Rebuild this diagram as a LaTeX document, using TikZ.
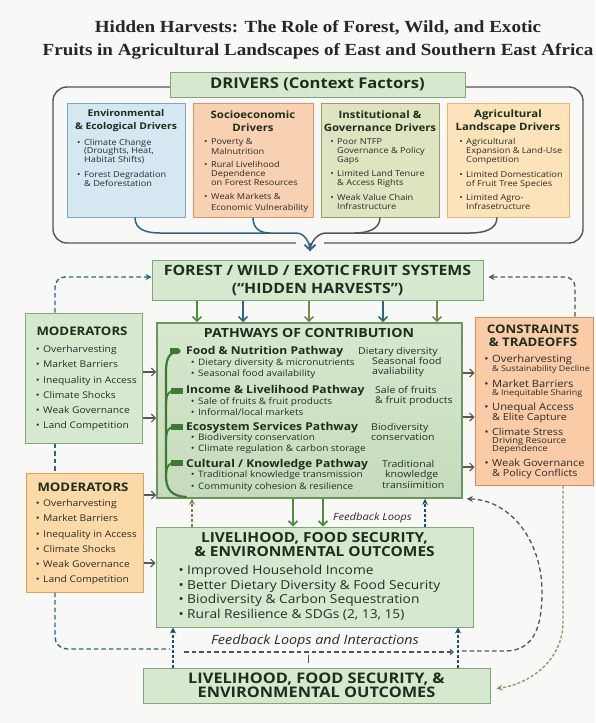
\documentclass[tikz,border=0pt]{standalone}
\usepackage{fontspec}
\setmainfont{Liberation Serif}[FakeStretch=1.12]
\setsansfont{Open Sans}[FakeStretch=1.12]
\usetikzlibrary{arrows.meta,positioning}

%% colours
\definecolor{pagebg}{HTML}{F8F8F6}
\definecolor{inktext}{HTML}{2B2B2B}
\definecolor{headink}{HTML}{1E2E1E}
\definecolor{greenfill}{HTML}{D6E9CF}
\definecolor{greenline}{HTML}{7EA877}
\definecolor{pathtop}{HTML}{D6E8CD}
\definecolor{pathfill}{HTML}{C6DBBB}
\definecolor{pathline}{HTML}{6A955F}
\definecolor{envfill}{HTML}{D5E7F1}
\definecolor{envline}{HTML}{7FA7C3}
\definecolor{socfill}{HTML}{F8D1B2}
\definecolor{socline}{HTML}{E39368}
\definecolor{insfill}{HTML}{DDE4BF}
\definecolor{insline}{HTML}{949F66}
\definecolor{agrfill}{HTML}{FCE3B9}
\definecolor{agrline}{HTML}{E9B66C}
\definecolor{modfill}{HTML}{FCDAA8}
\definecolor{modline}{HTML}{E0A15E}
\definecolor{confill}{HTML}{F9CBA6}
\definecolor{conline}{HTML}{E08B57}
\definecolor{stemgreen}{HTML}{3D7A36}
\definecolor{arrgreen}{HTML}{4E8A40}
\definecolor{arrblue}{HTML}{2B6683}
\definecolor{arrolive}{HTML}{7D8450}
\definecolor{arrgray}{HTML}{555555}
\definecolor{darkteal}{HTML}{1F4F68}

\newcommand{\bulletmark}{\llap{\textbullet\hspace{3.5pt}}}

\begin{document}
\begin{tikzpicture}
[x=1pt,y=-1pt,
  every node/.style={inner sep=0pt,text=inktext},
  boxdecorate/.style 2 args={draw=#2,fill=#1,line width=1pt},
  headdecorate/.style 2 args={font=\sffamily\bfseries\fontsize{#1}{#2}\selectfont,text=headink,align=center},
  listdecorate/.style={font=\sffamily\fontsize{#1}{#1}\selectfont,anchor=base west,yshift=-0.34*#1},
  boldlist/.style={font=\sffamily\bfseries\fontsize{#1}{#1}\selectfont,anchor=base west,yshift=-0.34*#1,text=headink},
  downarrow/.style={line width=1.6pt,-{Straight Barb[length=4.5pt,width=9pt]}},
  sidearrow/.style={line width=1.2pt,draw=arrgray!90!olive,-{Straight Barb[length=4pt,width=8pt]}},
  bluedash/.style={line width=1.4pt,draw=arrblue,dash pattern=on 4.5pt off 3pt},
  bluedot/.style={line width=1.4pt,draw=arrblue,dash pattern=on 3pt off 2pt,-{Stealth[length=6pt,width=6pt]},darkteal},
  graydash/.style={line width=1.3pt,draw=arrgray,dash pattern=on 4.5pt off 3pt},
  greendash/.style={line width=1.3pt,draw=arrgreen!80,dash pattern=on 3pt off 2pt},
  stemdecorate/.style={line width=2.2pt,draw=stemgreen,line cap=round}]
\useasboundingbox (0,0) rectangle (595,723);
\fill[pagebg] (0,0) rectangle (595,723);

%% title
\node (titleA) at (318,28) [font=\rmfamily\bfseries\fontsize{17}{18}\selectfont,text=black!85] {Hidden Harvests: The Role of Forest, Wild, and Exotic};
\node (titleB) at (318,51) [font=\rmfamily\bfseries\fontsize{17}{18}\selectfont,text=black!85] {Fruits in Agricultural Landscapes of East and Southern East Africa};

%% drivers frame and boxes
\draw[line width=1.4pt,draw=arrgray,rounded corners=14pt] (296,243) -- (53,243) -- (53,87) -- (583,87) -- (583,243) -- (324,243);
\node (drivers) at (317.5,84.5) [boxdecorate={greenfill}{greenline},minimum width=295pt,minimum height=25pt,headdecorate={14.8}{15}] {DRIVERS (Context Factors)};
\foreach \nodename/\cx/\boxw/\fillc/\linec/\hsize/\heading in {
  envbox/126/118/envfill/envline/9.3/{Environmental\\\& Ecological Drivers},
  socbox/253/120/socfill/socline/10.2/{Socioeconomic\\Drivers},
  insbox/380/118/insfill/insline/10.2/{Institutional \&\\Governance Drivers},
  agrbox/508/122/agrfill/agrline/10.2/{Agricultural\\Landscape Drivers}} {
  \node (\nodename) at (\cx,160) [boxdecorate={\fillc}{\linec},minimum width=\boxw pt,minimum height=114pt] {};
  \node (\nodename-head) at (\cx,121) [headdecorate={\hsize}{13}] {\heading};
}
\foreach \tx/\yy/\txt in {
  84/143/{\bulletmark Climate Change}, 84/151/{(Droughts, Heat,}, 84/160/{Habitat Shifts)},
  84/175/{\bulletmark Forest Degradation}, 84/184/{\& Deforestation},
  211/142/{\bulletmark Poverty \&}, 211/152/Malnutrition, 211/165/{\bulletmark Rural Livelihood},
  211/174/Dependence, 211/183/{on Forest Resources}, 211/197/{\bulletmark Weak Markets \&},
  211/208/{Economic Vulnerability},
  337/142/{\bulletmark Poor NTFP}, 337/151/{Governance \& Policy}, 337/160/Gaps,
  337/174/{\bulletmark Limited Land Tenure}, 337/183/{\& Access Rights},
  337/198/{\bulletmark Weak Value Chain}, 337/207/Infrastructure,
  466/142/{\bulletmark Agricultural}, 466/151/{Expansion \& Land-Use}, 466/160/Competition,
  466/175/{\bulletmark Limited Domestication}, 466/184/{of Fruit Tree Species},
  466/198/{\bulletmark Limited Agro-}, 466/207/Infrasetructure} {
  \node (drv\tx-\yy) at (\tx,\yy) [listdecorate=8.2] {\txt};
}

%% fruit systems and pathways
\node (forest) at (317.5,280) [boxdecorate={greenfill}{greenline},minimum width=331pt,minimum height=40pt,headdecorate={14.2}{18}] {FOREST / WILD / EXOTIC\,FRUIT SYSTEMS\\(“HIDDEN HARVESTS”)};
\node (paths) at (309.5,410.5) [boxdecorate={pathfill}{pathline},line width=1.6pt,top color=pathtop,bottom color=pathfill,minimum width=305pt,minimum height=175pt] {};
\node (paths-head) at (309,333) [headdecorate={12.6}{13}] {PATHWAYS OF CONTRIBUTION};
\foreach \yy/\txt in {351/{Food \& Nutrition Pathway}, 390/{Income \& Livelihood Pathway},
  427/{Ecosystem Services Pathway}, 464/{Cultural / Knowledge Pathway}} {
  \node (pw\yy) at (186,\yy) [boldlist=10.8] {\txt};
}
\foreach \yy/\txt in {362/{Dietary diversity \& micronutrients}, 373/{Seasonal food availability},
  401/{Sale of fruits \& fruit products}, 412/{Informal/local markets},
  437/{Biodiversity conservation}, 448/{Climate regulation \& carbon storage},
  474/{Traditional knowledge transmission}, 486/{Community cohesion \& resilience}} {
  \node (pi\yy) at (198,\yy) [listdecorate=8.9] {\bulletmark\txt};
}
\foreach \tx/\yy/\txt in {358/351/{Dietary diversity}, 372/361/{Seasonal food}, 372/371/avaliability,
  375/390/{Sale of fruits}, 375/400/{\& fruit products}, 371/427/Biodiversity, 371/437/conservation,
  382/464/Traditional, 385/474/knowledge, 382/485/transiimition} {
  \node (pr\tx-\yy) at (\tx,\yy) [listdecorate=9.4] {\txt};
}
%% pathway stem
\draw[stemdecorate] (178,351) .. controls (168,353) and (166,360) .. (166,372) -- (166,476) .. controls (166,490) and (172,496) .. (186,497);
\fill[stemgreen] (178,351) circle (2.6pt);
\fill[stemgreen] (170,348) -- (178,348) -- (180,351) -- (178,354) -- (170,354) -- cycle;
\foreach \yy in {391,427,463} {
  \draw[stemdecorate,line width=1.8pt] (166,\yy+16) .. controls (166,\yy+4) and (168,\yy) .. (174,\yy);
  \fill[stemgreen] (171,\yy-3) rectangle (183,\yy+3);
}

%% moderators and constraints
\node (modgreen) at (83.5,378) [boxdecorate={greenfill}{greenline},minimum width=117pt,minimum height=130pt] {};
\node (modorange) at (84.5,532.5) [boxdecorate={modfill}{modline},minimum width=117pt,minimum height=119pt] {};
\node (modgreen-head) at (82,331) [headdecorate={11.8}{12}] {MODERATORS};
\node (modorange-head) at (83,487) [headdecorate={11.8}{12}] {MODERATORS};
\foreach \yy/\txt in {349/Overharvesting, 364/{Market Barriers}, 380/{Inequality in Access},
  395/{Climate Shocks}, 410/{Weak Governance}, 425/{Land Competition}} {
  \node (modg\yy) at (43,\yy) [listdecorate=9.2] {\bulletmark \txt};
  \pgfmathtruncatemacro{\yo}{\yy+154}
  \node (modo\yo) at (43,\yo) [listdecorate=9.2] {\bulletmark \txt};
}
\node (cons) at (534,401) [boxdecorate={confill}{conline},minimum width=118pt,minimum height=168pt] {};
\node (cons-head) at (533,336) [headdecorate={11.8}{12.5}] {CONSTRAINTS\\\& TRADEOFFS};
\foreach \yy/\sz/\txt in {359/10/{\bulletmark Overharvesting}, 369/8/{\& Sustainability Decline},
  384/10/{\bulletmark Market Barriers}, 393/8/{\& Inequitable Sharing},
  407/10/{\bulletmark Unequal Access}, 417/9.6/{\& Elite Capture},
  432/9.6/{\bulletmark Climate Stress}, 441/8.4/{Driving Resource}, 449/8.4/Dependence,
  463/9.8/{\bulletmark Weak Governance}, 473/9.6/{\& Policy Conflicts}} {
  \node (cs\yy) at (492,\yy) [listdecorate=\sz] {\txt};
}

%% outcomes
\node (outcome) at (314.5,577) [boxdecorate={greenfill}{greenline},minimum width=317pt,minimum height=100pt] {};
\node (outcome-head) at (314.5,545) [headdecorate={13.8}{14}] {LIVELIHOOD, FOOD SECURITY,\\\& ENVIRONMENTAL OUTCOMES};
\foreach \yy/\txt in {570/{Improved Household Income}, 585/{Better Dietary Diversity \& Food Security},
  599/{Biodiversity \& Carbon Sequestration}, 614/{Rural Resilience \& SDGs (2, 13, 15)}} {
  \node (oc\yy) at (187,\yy) [listdecorate=12.3] {\bulletmark\txt};
}
\node (bottom) at (316.5,685.5) [boxdecorate={greenfill}{greenline},minimum width=347pt,minimum height=35pt,headdecorate={14.6}{14.5}] {LIVELIHOOD, FOOD SECURITY, \&\\ENVIRONMENTAL OUTCOMES};
\node (fbsmall) at (333,518) [listdecorate=8,font=\sffamily\itshape\fontsize{10}{10}\selectfont] {Feedback Loops};
\node (fbbig) at (315,641) [font=\sffamily\itshape\fontsize{12.8}{13}\selectfont] {Feedback Loops and Interactions};

%% driver connectors
\coordinate (mergetip) at (310,251);
\draw[line width=1.5pt,arrblue] ([xshift=9pt]envbox.south) .. controls +(0,12) and +(-14,0) .. (160,233) -- (296,233) .. controls +(9,0) and +(0,-8) .. (mergetip);
\draw[line width=1.5pt,arrblue] (socbox.south) .. controls +(0,11) and +(-10,0) .. (270,233);
\draw[line width=1.5pt,arrgray] (insbox.south) .. controls +(0,12) and +(12,0) .. (355,233) -- (326,233) .. controls +(-9,0) and +(0,-8) .. (mergetip);
\draw[line width=1.5pt,arrgray] ([xshift=-11pt]agrbox.south) .. controls +(0,12) and +(14,0) .. (470,233) -- (355,233);
\draw[line width=1.8pt,arrblue,-{Straight Barb[length=5pt,width=11pt]}] (310,243) -- (mergetip);

%% arrows into and out of pathways
\foreach \xx/\colr in {197/arrgreen, 243/arrblue, 309/arrolive, 383/arrblue, 437/arrolive} {
  \draw[downarrow,\colr] (forest.south -| \xx,0) -- (paths.north -| \xx,0);
}
\foreach \yy in {372,418} {
  \draw[sidearrow] (modgreen.east |- 0,\yy) -- (paths.west |- 0,\yy);
}
\draw[sidearrow] (modorange.east |- 0,495) -- (paths.west |- 0,495);
\draw[sidearrow] (modorange.east |- 0,563) -- (outcome.west |- 0,563);
\foreach \yy in {373,417,467} {
  \draw[sidearrow] (paths.east |- 0,\yy) -- (cons.west |- 0,\yy);
}
\foreach \xx in {293,323} {
  \draw[downarrow,arrgreen] (paths.south -| \xx,0) -- (outcome.north -| \xx,0);
}
\draw[line width=1.4pt,arrolive,dash pattern=on 3pt off 2pt,-{Stealth[length=6pt,width=6pt]}] (outcome.north -| 192,0) -- (paths.south -| 192,0);
\draw[bluedot] (outcome.north -| 425,0) -- (paths.south -| 425,0);
\foreach \xx in {173,458} {
  \draw[bluedot] (bottom.north -| \xx,0) -- (outcome.south -| \xx,0);
}

%% dashed feedback loops
\draw[bluedash,rounded corners=10pt,-{Stealth[length=6pt,width=6pt]}] (modgreen.north -| 55,0) |- (forest.west |- 0,277);
\draw[bluedash] (modgreen.south -| 55,0) -- (modorange.north -| 55,0);
\coordinate (loopjoin) at (170,649);
\draw[bluedash,rounded corners=12pt] (modorange.south -| 55,0) |- (loopjoin);
\coordinate (loopstart) at (184,652);
\coordinate (loopmid) at (454,652);
\draw[graydash,-{Straight Barb[length=3pt,width=5pt]}] (loopstart) -- (loopmid);
\draw[graydash,-{Stealth[length=6pt,width=6pt]}] (462,651) -- (505,651) .. controls (535,651) and (542,625) .. (542,592) .. controls (542,540) and (510,500) .. ([xshift=4pt]paths.south east);
\draw[arrgray,line width=1pt] (loopmid -| 308,0) ++(0,3) -- ++(0,8);
\draw[graydash,rounded corners=10pt,-{Stealth[length=6pt,width=6pt]}] (cons.north -| 575,0) |- ([xshift=5pt]forest.east |- 0,277);
\draw[greendash,-{Stealth[length=6pt,width=6pt]}] (cons.south -| 563,0) -- (563,622) .. controls (563,660) and (530,684) .. ([xshift=6pt,yshift=-3pt]bottom.east);
\end{tikzpicture}
\end{document}
